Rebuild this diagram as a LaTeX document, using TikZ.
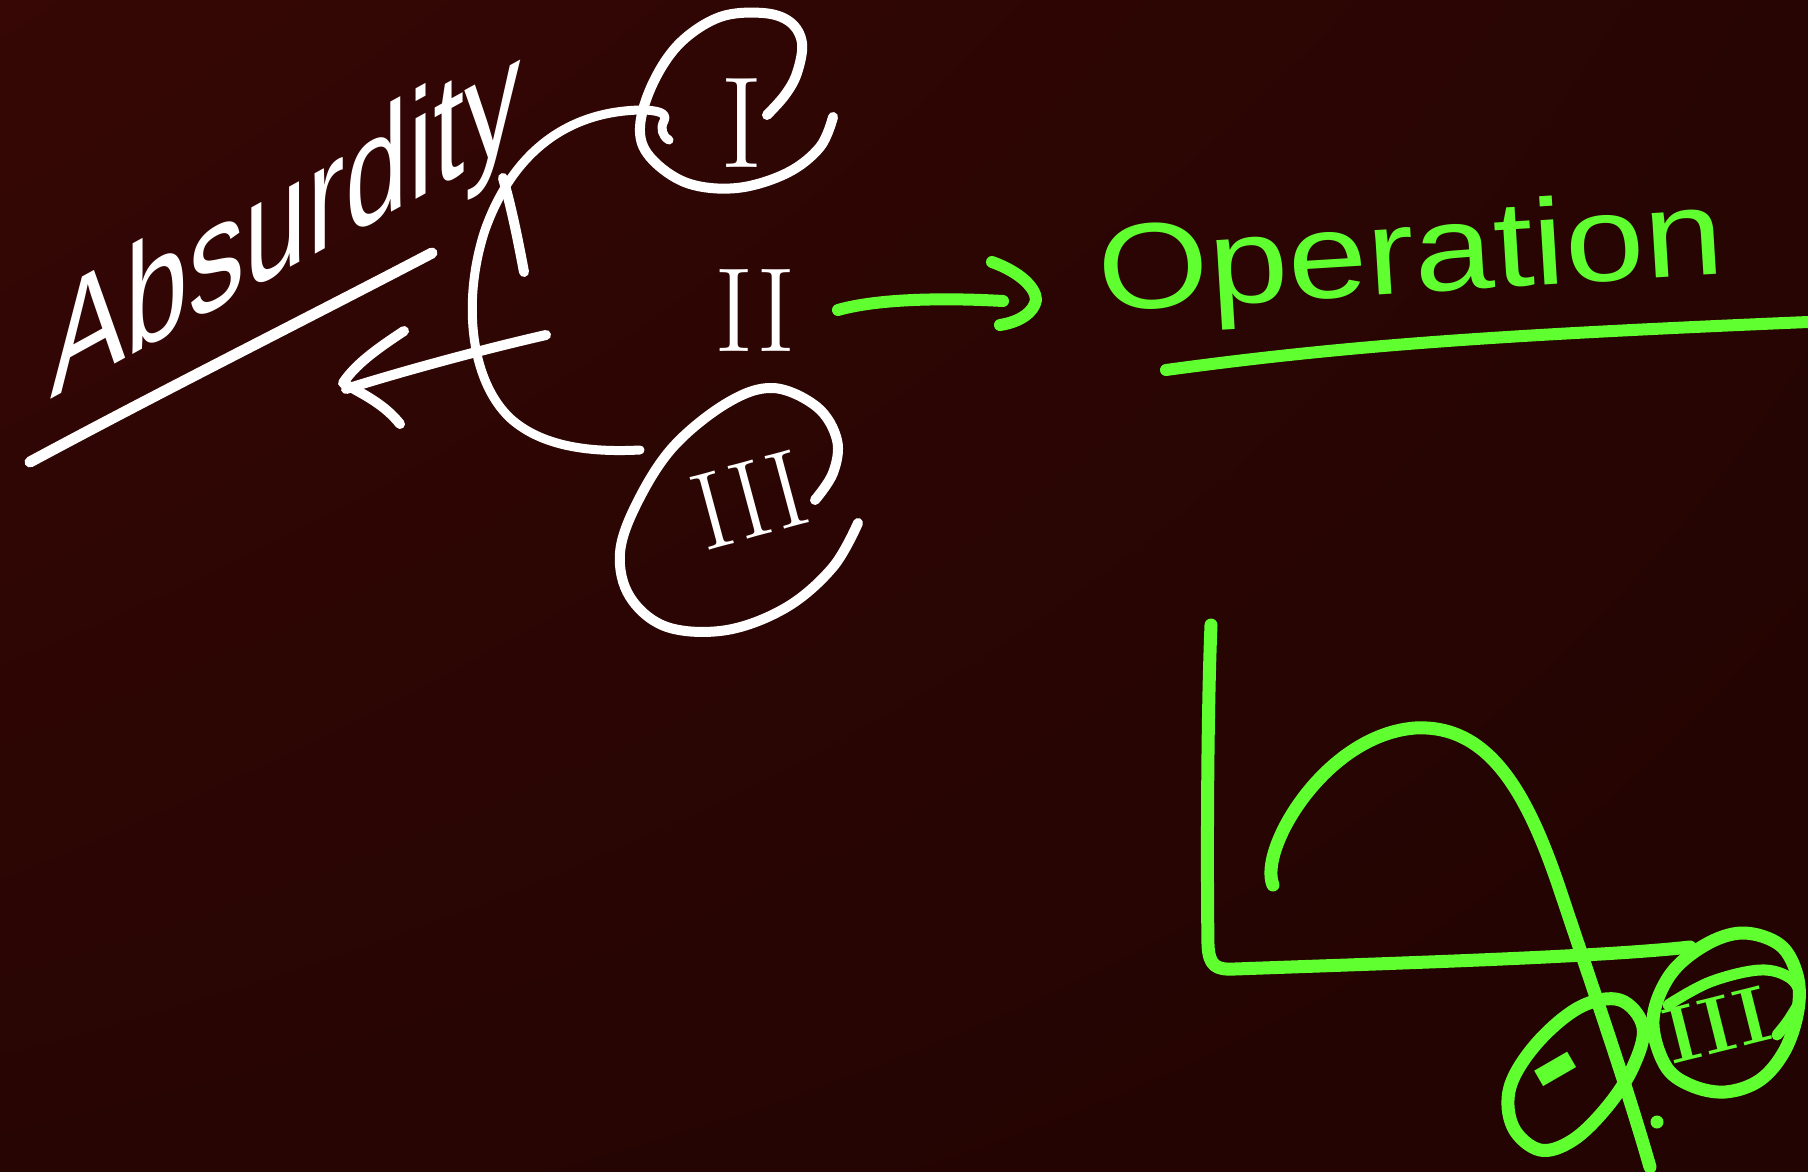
\documentclass[tikz,border=0pt]{standalone}
\usepackage{fontspec}
\usetikzlibrary{shadings}
\newfontfamily\hand{Liberation Sans}
\definecolor{bgA}{RGB}{54,7,4}
\definecolor{bgB}{RGB}{39,5,3}
\definecolor{bgC}{RGB}{34,4,2}
\definecolor{chalk}{RGB}{255,255,255}
\definecolor{lime}{RGB}{96,255,48}
\tikzset{
  wstroke/.style={draw=chalk,line width=10pt,line cap=round,line join=round},
  gstroke/.style={draw=lime,line width=13pt,line cap=round,line join=round},
  numtxt/.style={inner sep=0pt},
}
\begin{document}
\begin{tikzpicture}[x=1pt,y=1pt]
\useasboundingbox (0,0) rectangle (1808,-1172);
\shade[upper left=bgA, upper right=bgB, lower left=bgB, lower right=bgC] (0,0) rectangle (1808,-1172);

% ---------- white part ----------
\node[yslant=0.55, anchor=base west, inner sep=0pt, text=chalk,
      font=\hand\fontsize{113}{113}\selectfont] (absurd) at (50,-400) {\scalebox{1}[1.35]{Absurdity}};
\draw[wstroke] (503,-178) .. controls (512,-210) and (518,-240) .. (524,-272);
\draw[wstroke, line width=11pt] (30,-462) .. controls (160,-392) and (300,-322) .. (432,-253);

% bracket joining I and III
\draw[wstroke, line width=9pt] (669,-140) .. controls (662,-136) and (660,-128) .. (664,-121)
  .. controls (668,-113) and (658,-110) .. (640,-110)
  .. controls (560,-112) and (510,-160) .. (485,-230)
  .. controls (462,-300) and (470,-380) .. (510,-418)
  .. controls (545,-450) and (600,-452) .. (640,-450);

% arrow to Absurdity
\coordinate (wa0) at (546,-335);
\coordinate (wa1) at (346,-389);
\draw[wstroke] (wa0) .. controls (480,-350) and (400,-372) .. (wa1);
\draw[wstroke] (404,-331) .. controls (375,-350) and (355,-365) .. (343,-383) .. controls (365,-395) and (385,-405) .. (400,-424);

% circle I
\node[numtxt, text=chalk, font=\fontsize{130}{130}\selectfont] (n1) at (742,-123) {I};
\draw[wstroke] plot[smooth, tension=0.6] coordinates {(767,-115) (785,-95) (797,-73) (802,-43) (790,-22) (763,-13) (720,-17) (680,-43) (653,-83) (640,-127) (650,-157) (687,-183) (737,-188) (787,-173) (820,-147) (833,-117)};

% II
\node[numtxt, text=chalk, font=\fontsize{120}{120}\selectfont] (n2) at (755,-311) {II};

% circle III
\node[numtxt, rotate=15, text=chalk, font=\fontsize{110}{110}\selectfont] (n3) at (750,-500) {III};
\draw[wstroke] plot[smooth, tension=0.6] coordinates {(858,-523) (833,-567) (787,-607) (727,-630) (667,-627) (630,-597) (620,-553) (637,-503) (673,-447) (727,-403) (773,-388) (817,-407) (837,-440) (833,-473) (815,-500)};

% ---------- green part ----------
\coordinate (ga0) at (838,-310);
\coordinate (ga1) at (1003,-301);
\draw[gstroke, line width=12pt] (ga0) .. controls (880,-298) and (950,-298) .. (ga1);
\draw[gstroke, line width=12pt] (992,-262) .. controls (1020,-272) and (1036,-288) .. (1036,-300) .. controls (1034,-312) and (1020,-322) .. (1000,-325);

\node[rotate=3.5, anchor=base west, inner sep=0pt, text=lime,
      font=\hand\fontsize{122}{122}\selectfont] (opn) at (1100,-312) {\scalebox{1.17}[1]{Operation}};
\draw[gstroke, line width=12pt] (1166,-370) .. controls (1350,-345) and (1500,-335) .. (1808,-322);

% graph axes
\draw[gstroke] (1211,-625) .. controls (1207,-720) and (1207,-880) .. (1208,-945)
  .. controls (1209,-966) and (1216,-970) .. (1235,-969)
  .. controls (1400,-963) and (1600,-957) .. (1690,-947);
% curve
\draw[gstroke] (1273,-885) .. controls (1258,-850) and (1325,-735) .. (1415,-728)
  .. controls (1490,-724) and (1528,-795) .. (1560,-890)
  .. controls (1590,-980) and (1625,-1080) .. (1650,-1167);

% circled minus
\draw[gstroke] plot[smooth cycle, tension=0.6] coordinates {(1620,-1000) (1643,-1027) (1633,-1067) (1607,-1107) (1573,-1140) (1540,-1150) (1513,-1127) (1510,-1087) (1537,-1043) (1580,-1007)};
\node[inner sep=0pt, rotate=30, text=lime, font=\hand\bfseries\fontsize{150}{150}\selectfont] (gminus) at (1563,-1082) {-};
\fill[lime] (1657,-1122) circle (6.5);

% circled III
\draw[gstroke] plot[smooth cycle, tension=0.6] coordinates {(1653,-1020) (1670,-975) (1705,-945) (1743,-933) (1780,-945) (1797,-975) (1798,-1010) (1785,-1050) (1760,-1080) (1725,-1092) (1690,-1085) (1665,-1065)};
\draw[gstroke, line width=11pt] plot[smooth, tension=0.6] coordinates {(1668,-1005) (1710,-982) (1760,-970) (1790,-978) (1800,-997) (1790,-1018) (1777,-1035)};
\node[numtxt, rotate=14, text=lime, font=\bfseries\fontsize{80}{80}\selectfont] (g3) at (1717,-1025) {III};
\end{tikzpicture}
\end{document}
